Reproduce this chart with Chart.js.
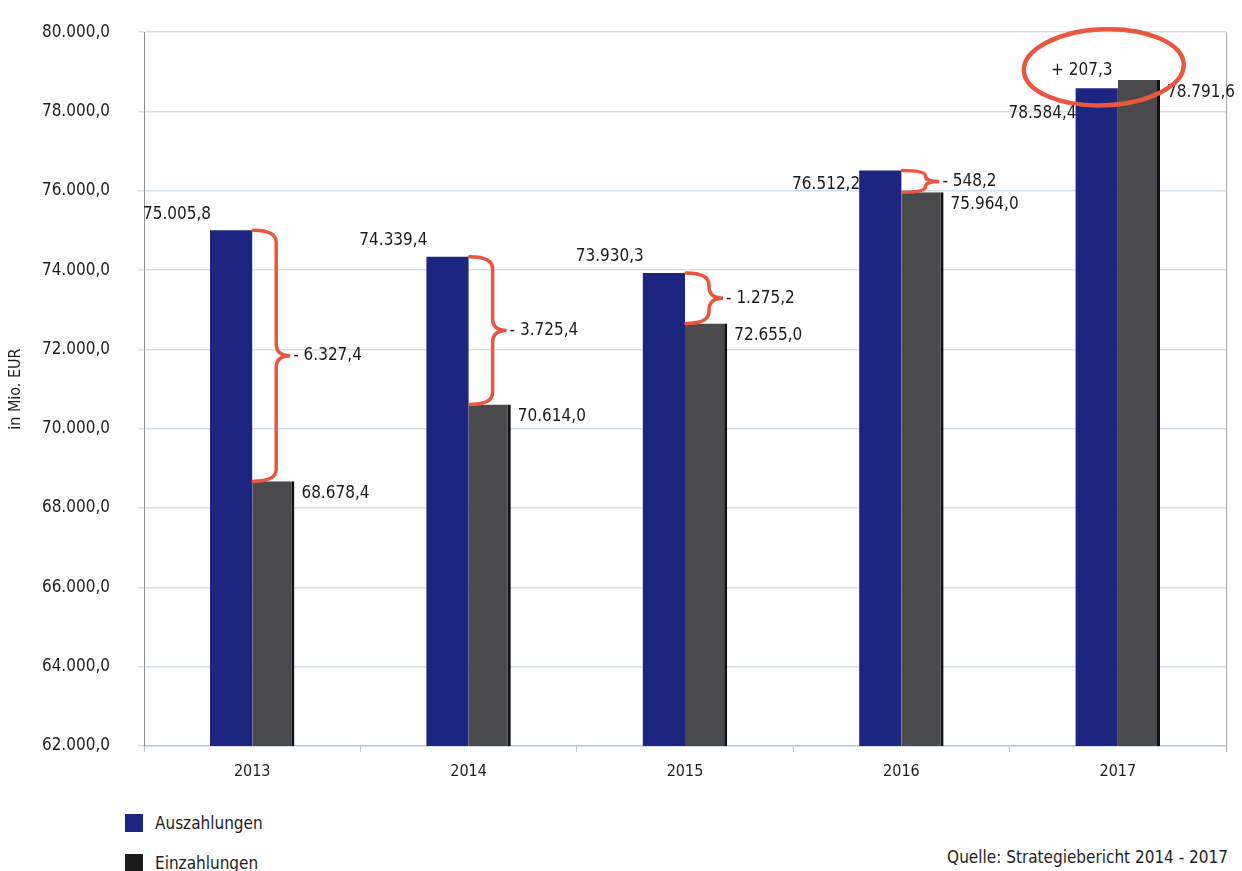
<!DOCTYPE html>
<html lang="de">
<head>
<meta charset="utf-8">
<title>Auszahlungen und Einzahlungen 2013 - 2017</title>
<script src="https://cdn.jsdelivr.net/npm/chart.js@4"></script>
<style>
  body{margin:0;background:#fff;font-family:"DejaVu Sans Condensed","DejaVu Sans",sans-serif;color:#1e1e1e;}
  #wrap{position:relative;width:1242px;height:871px;overflow:hidden;}
  #box{position:absolute;left:0;top:-6px;width:1242px;height:800px;}
  .leg{position:absolute;left:125px;font-size:17px;line-height:18px;}
  .leg span{display:inline-block;width:18px;height:18px;vertical-align:middle;margin-right:12px;}
  .leg b{font-weight:normal;vertical-align:middle;}
  #src{position:absolute;right:14px;top:847px;font-size:17px;}
</style>
</head>
<body>
<div id="wrap">
  <div id="box"><canvas id="chart"></canvas></div>
  <div class="leg" style="top:813px"><span style="background:#1c2580"></span><b>Auszahlungen</b></div>
  <div class="leg" style="top:853px"><span style="background:#1a1a1a"></span><b>Einzahlungen</b></div>
  <div id="src">Quelle: Strategiebericht 2014 - 2017</div>
</div>
<script>
// ********data (Mio. EUR)********
const years=['2013','2014','2015','2016','2017'];
const auszahlungen=[75005.8,74339.4,73930.3,76512.2,78584.4];
const einzahlungen=[68678.4,70614.0,72655.0,75964.0,78791.6];
const differenz=[-6327.4,-3725.4,-1275.2,-548.2,207.3];
const yMin=62000, yMax=80000, yStep=2000;

const FONT='"DejaVu Sans Condensed","DejaVu Sans",sans-serif';
const RED='#e9573f';

// german number format: 75.005,8
function fmt(v){
  const [i,d]=Math.abs(v).toFixed(1).split('.');
  return (v<0?'-':'')+i.replace(/\B(?=(\d{3})+(?!\d))/g,'.')+','+d;
}

// curly brace from (x,y0) to (x,y1), pointing right
function brace(ctx,x,y0,y1,w,tip){
  const ym=(y0+y1)/2, r=Math.min(12,(y1-y0)/4);
  ctx.beginPath();
  ctx.moveTo(x,y0);
  ctx.quadraticCurveTo(x+w,y0,x+w,y0+r);
  ctx.lineTo(x+w,ym-r);
  ctx.quadraticCurveTo(x+w,ym,x+w+tip,ym);
  ctx.quadraticCurveTo(x+w,ym,x+w,ym+r);
  ctx.lineTo(x+w,y1-r);
  ctx.quadraticCurveTo(x+w,y1,x,y1);
  ctx.stroke();
}

// ********labels, braces, ellipse********
const annotate={
  id:'annotate',
  beforeDatasetsDraw(chart){
    const {ctx,chartArea:a}=chart;
    ctx.save();
    ctx.strokeStyle='#a9a9a9';ctx.lineWidth=1;
    ctx.beginPath();ctx.moveTo(a.right+0.5,a.top);ctx.lineTo(a.right+0.5,a.bottom+6);ctx.stroke();
    ctx.restore();
  },
  afterDatasetsDraw(chart){
    const ctx=chart.ctx;
    const blue=chart.getDatasetMeta(0).data, grey=chart.getDatasetMeta(1).data;
    ctx.save();
    ctx.font='17px '+FONT;
    ctx.fillStyle='#1a1a1a';
    ctx.textBaseline='middle';
    blue.forEach((b,i)=>{
      const g=grey[i];
      const left=b.x-b.width/2, mid=b.x+b.width/2, right=g.x+g.width/2;
      ctx.textAlign='right';
      const dy=i<3?-16:(i===4?25:14);
      ctx.fillText(fmt(auszahlungen[i]),left+1,b.y+dy);
      ctx.textAlign='left';
      ctx.fillText(fmt(einzahlungen[i]),right+7,g.y+12);
      const d=(differenz[i]<0?'- ':'+ ')+fmt(Math.abs(differenz[i]));
      if(differenz[i]<0){
        ctx.strokeStyle=RED;ctx.lineWidth=3.5;ctx.lineCap='round';
        brace(ctx,mid+1,b.y,g.y,23,14);
        ctx.fillText(d,mid+41,(b.y+g.y)/2);
      }else{
        ctx.textAlign='center';
        ctx.fillText(d,mid-36,b.y-18);
        ctx.strokeStyle=RED;ctx.lineWidth=4.5;
        ctx.beginPath();
        ctx.ellipse(mid-14,b.y-21,80,38,-0.04,0,Math.PI*2);
        ctx.stroke();
      }
    });
    ctx.restore();
  }
};

Chart.defaults.font.family=FONT;
Chart.defaults.color='#1e1e1e';

new Chart(document.getElementById('chart'),{
  type:'bar',
  data:{
    labels:years,
    datasets:[
      {label:'Auszahlungen',data:auszahlungen,backgroundColor:'#1c2580',borderWidth:0},
      {label:'Einzahlungen',data:einzahlungen,backgroundColor:'#4a4a4c',borderColor:'#111',borderWidth:{right:3,left:0,top:0,bottom:0}}
    ]
  },
  options:{
    responsive:true,
    maintainAspectRatio:false,
    animation:false,
    layout:{padding:{top:26,right:16,left:0,bottom:0}},
    datasets:{bar:{categoryPercentage:0.39,barPercentage:1}},
    plugins:{legend:{display:false},tooltip:{enabled:false}},
    scales:{
      x:{
        grid:{drawOnChartArea:false,tickLength:6,color:'#b8c6d2'},
        border:{color:'#b8c8d4',width:1.5},
        ticks:{padding:10,font:{size:16}},
        afterFit(s){s.height=48;}
      },
      y:{
        min:yMin,max:yMax,
        ticks:{stepSize:yStep,callback:v=>fmt(v),padding:28,font:{size:17}},
        grid:{color:'#d3e0ea',lineWidth:1.5,tickLength:6},
        border:{display:true,color:'#8e8e8e',width:1},
        title:{display:true,text:'in Mio. EUR',font:{size:16},padding:{top:6,bottom:0}},
        afterFit(s){s.width=144;}
      }
    }
  },
  plugins:[annotate]
});
</script>
</body>
</html>
